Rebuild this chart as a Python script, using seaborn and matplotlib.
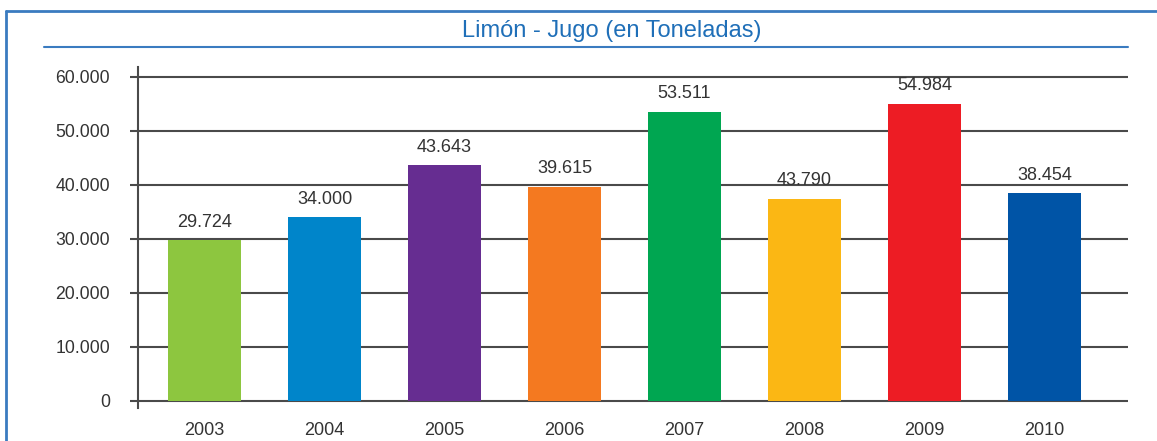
import matplotlib
matplotlib.use("Agg")
import matplotlib.pyplot as plt
from matplotlib.lines import Line2D
from matplotlib.ticker import FuncFormatter
import seaborn as sns
import pandas as pd

years = ["2003", "2004", "2005", "2006", "2007", "2008", "2009", "2010"]
values = [29724, 34000, 43643, 39615, 53511, 37400, 54984, 38454]
value_labels = ["29.724", "34.000", "43.643", "39.615", "53.511", "43.790", "54.984", "38.454"]
colors = ["#8DC63F", "#0085CA", "#662D91", "#F47920", "#00A651", "#FBB714", "#ED1C24", "#0054A6"]
title = "Limón - Jugo (en Toneladas)"
yticks = [0, 10000, 20000, 30000, 40000, 50000, 60000]

sns.set_theme(style="white")
plt.rcParams["font.family"] = ["Liberation Sans", "DejaVu Sans"]

W, H = 1157, 441
fig = plt.figure(figsize=(W / 100, H / 100), dpi=100)
ax = fig.add_axes([138 / W, 1 - 408 / H, (1128 - 138) / W, (408 - 67) / H])

df = pd.DataFrame({"year": years, "value": values})
sns.barplot(data=df, x="year", y="value", hue="year", palette=colors,
            width=0.61, saturation=1, legend=False, ax=ax, zorder=3,
            linewidth=0, edgecolor="none")

txt = "#333333"
grid = "#4a4a4a"
ax.set_xlim(-0.554, 7.696)
ax.set_ylim(-1300, 61850)
ax.set_yticks(yticks)
ax.yaxis.set_major_formatter(FuncFormatter(lambda v, p: f"{int(v):,}".replace(",", ".")))
ax.yaxis.grid(True, color=grid, linewidth=1.5, zorder=1)
ax.set_axisbelow(True)
for s in ["top", "right", "bottom"]:
    ax.spines[s].set_visible(False)
ax.spines["left"].set_color(grid)
ax.spines["left"].set_linewidth(1.5)
ax.tick_params(axis="y", left=True, length=6, width=1.5, color=grid, pad=14,
               labelsize=12.7, labelcolor=txt)
ax.tick_params(axis="x", bottom=False, length=0, pad=10, labelsize=13, labelcolor=txt)
ax.set_xlabel("")
ax.set_ylabel("")

for i, (v, lab) in enumerate(zip(values, value_labels)):
    ax.annotate(lab, (i, v), xytext=(0, 7), textcoords="offset points",
                ha="center", va="bottom", fontsize=13, color=txt)

blue = "#3A7BC0"
def fl(x0, y0, x1, y1, lw):
    fig.add_artist(Line2D([x0 / W, x1 / W], [1 - y0 / H, 1 - y1 / H], color=blue,
                          linewidth=lw, transform=fig.transFigure))
fl(6, 11, W, 11, 2)
fl(6, 11, 6, H, 2)
fl(44, 47, 1128, 47, 1.5)
fig.text(612 / W, 1 - 31 / H, title, ha="center", va="center", fontsize=17, color="#1F6FB8")

fig.savefig("out.png", dpi=100)
